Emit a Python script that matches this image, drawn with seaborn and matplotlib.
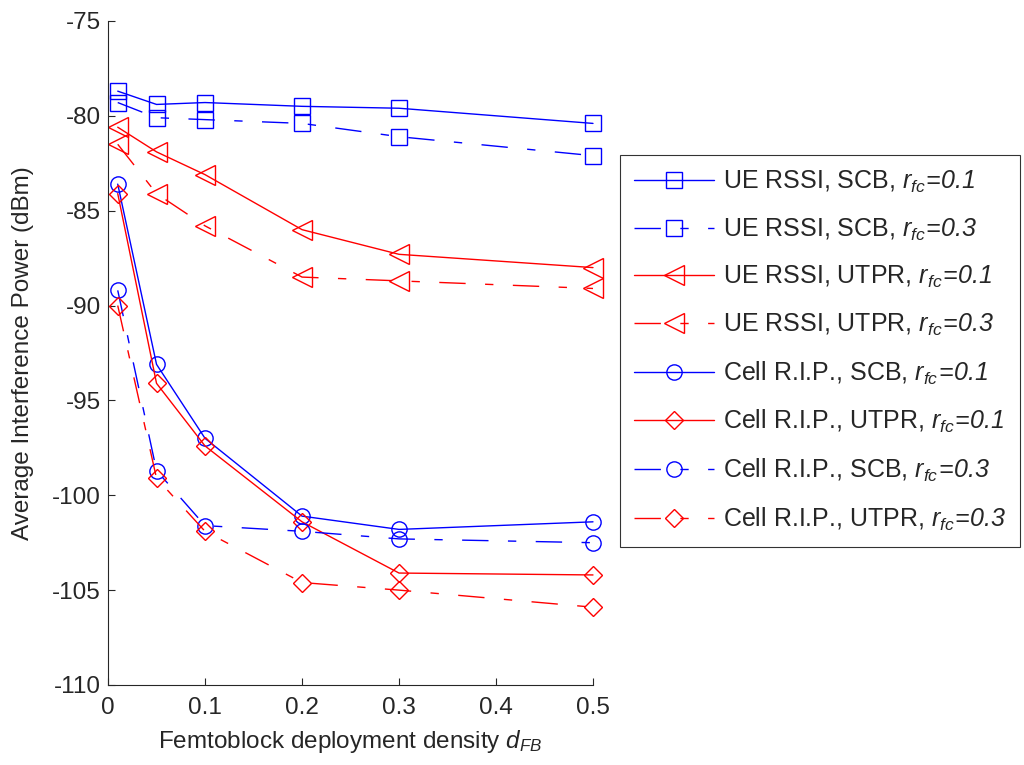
import matplotlib
matplotlib.use("Agg")
import matplotlib.pyplot as plt
import seaborn as sns

# density of femtoblocks
d_fb = [0.01, 0.05, 0.1, 0.2, 0.3, 0.5]

# average interference power (dBm)
rssi_scb_01 = [-78.7, -79.4, -79.3, -79.5, -79.6, -80.4]
rssi_scb_03 = [-79.3, -80.1, -80.2, -80.4, -81.1, -82.1]
rssi_utpr_01 = [-80.6, -81.9, -83.1, -86.0, -87.3, -88.0]
rssi_utpr_03 = [-81.5, -84.1, -85.8, -88.5, -88.7, -89.1]
rip_scb_01 = [-83.6, -93.1, -97.0, -101.1, -101.8, -101.4]
rip_utpr_01 = [-84.1, -94.1, -97.4, -101.4, -104.1, -104.2]
rip_scb_03 = [-89.2, -98.7, -101.6, -101.9, -102.3, -102.5]
rip_utpr_03 = [-90.0, -99.1, -101.9, -104.6, -105.0, -105.9]

rfc = r"$r_{fc}\!\mathsf{=}\!\mathsf{%s}$"
labels = [
    "UE RSSI, SCB, " + rfc % "0.1",
    "UE RSSI, SCB, " + rfc % "0.3",
    "UE RSSI, UTPR, " + rfc % "0.1",
    "UE RSSI, UTPR, " + rfc % "0.3",
    "Cell R.I.P., SCB, " + rfc % "0.1",
    "Cell R.I.P., UTPR, " + rfc % "0.1",
    "Cell R.I.P., SCB, " + rfc % "0.3",
    "Cell R.I.P., UTPR, " + rfc % "0.3",
]
series = [rssi_scb_01, rssi_scb_03, rssi_utpr_01, rssi_utpr_03,
          rip_scb_01, rip_utpr_01, rip_scb_03, rip_utpr_03]
colors = ["blue", "blue", "red", "red", "blue", "red", "blue", "red"]
markers = ["s", "s", "<", "<", "o", "D", "o", "D"]
msizes = [11, 11, 14, 14, 11, 9, 11, 9]
solid = [True, False, True, False, True, True, False, False]

sns.set_style("ticks")
plt.rcParams["font.family"] = ["Liberation Sans", "DejaVu Sans"]
plt.rcParams["mathtext.fontset"] = "custom"
plt.rcParams["mathtext.rm"] = "Liberation Sans"
plt.rcParams["mathtext.it"] = "Liberation Sans:italic"
plt.rcParams["mathtext.sf"] = "Liberation Sans:italic"
plt.rcParams["axes.unicode_minus"] = False
plt.rcParams["lines.scale_dashes"] = False
plt.rcParams["xtick.direction"] = "in"
plt.rcParams["ytick.direction"] = "in"

fs = 17.5

fig = plt.figure(figsize=(10.24, 7.65), dpi=100)
ax = fig.add_axes([0.1055, 0.1046, 0.4736, 0.868])

for y, lab, c, m, ms, s in zip(series, labels, colors, markers, msizes, solid):
    sns.lineplot(x=d_fb, y=y, ax=ax, color=c, marker=m, markersize=ms,
                 mfc="none", mec=c, mew=1.0, lw=1.0, label=lab, clip_on=False)
    if not s:
        ax.lines[-1].set_dashes((19, 14, 6, 14))

ax.set_xlim(0, 0.5)
ax.set_ylim(-110, -75)
ax.set_xticks([0, 0.1, 0.2, 0.3, 0.4, 0.5])
ax.set_xticklabels(["0", "0.1", "0.2", "0.3", "0.4", "0.5"])
ax.set_yticks(range(-110, -74, 5))
ax.tick_params(labelsize=fs, length=5, width=0.8, pad=5)
ax.tick_params(axis="x", pad=9)
ax.set_xlabel(r"Femtoblock deployment density $d_{FB}$", fontsize=fs, labelpad=6)
ax.set_ylabel("Average Interference Power (dBm)", fontsize=fs, labelpad=13)
sns.despine(ax=ax)
for sp in ax.spines.values():
    sp.set_linewidth(0.8)

leg = ax.legend(loc="upper left", bbox_to_anchor=(0.6055, 0.7974),
                bbox_transform=fig.transFigure, fontsize=18,
                frameon=True, fancybox=False, edgecolor="black",
                handlelength=3.2, labelspacing=0.86, borderpad=0.55,
                handletextpad=0.35, borderaxespad=0)
leg.get_frame().set_linewidth(0.8)

fig.savefig("out.png", dpi=100)
